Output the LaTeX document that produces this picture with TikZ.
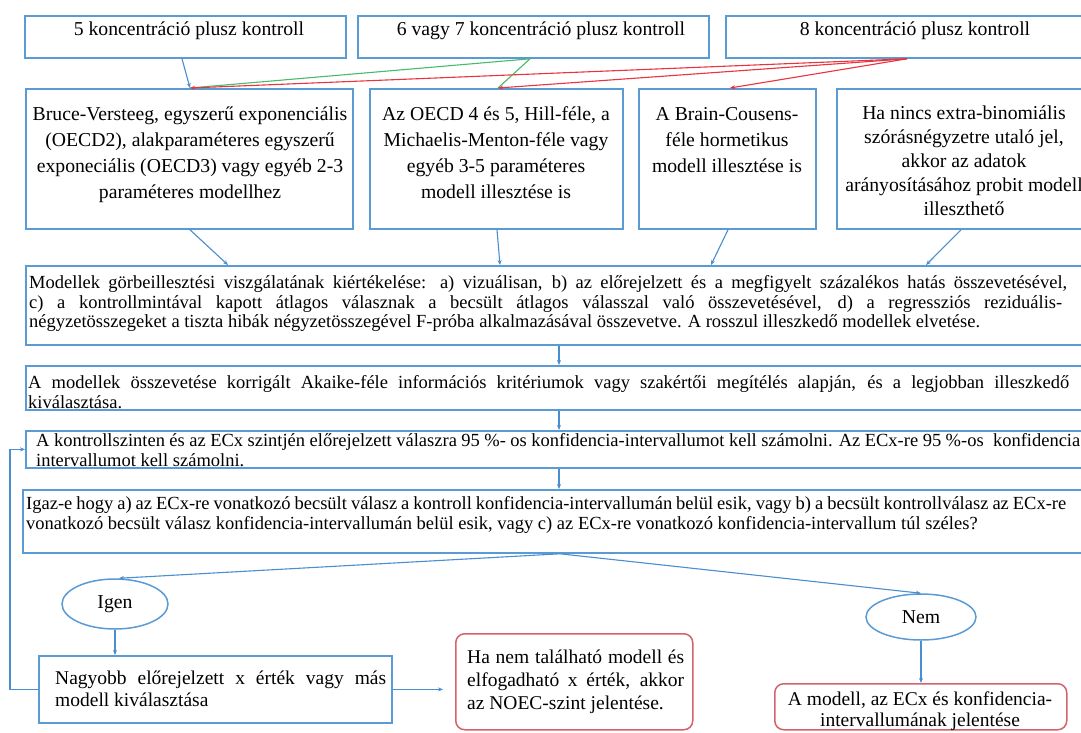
\documentclass[tikz,border=0pt]{standalone}
\usepackage{fontspec}
\setmainfont{Liberation Serif}
\usetikzlibrary{arrows.meta,shapes.geometric}
\definecolor{boxblue}{RGB}{91,155,213}
\definecolor{linkblue}{RGB}{72,142,208}
\definecolor{boxred}{RGB}{214,98,110}
\definecolor{linkred}{RGB}{236,50,60}
\definecolor{linkgreen}{RGB}{72,186,108}
% one line stretched to a given width (in pt)
\newcommand{\jl}[2]{\makebox[#1pt][s]{#2}}
\tikzset{
  panel/.style={draw=boxblue, line width=1.8pt, inner sep=0pt, anchor=north west},
  redpanel/.style={draw=boxred, line width=1.5pt, rounded corners=9pt, inner sep=0pt, anchor=north west},
  oval/.style={ellipse, draw=boxblue, line width=1.5pt, inner sep=0pt},
  label/.style={inner sep=0pt, align=center, font=\fontsize{19.7}{26}\selectfont},
  para/.style={inner sep=0pt, anchor=north west, align=left, font=\fontsize{18.5}{19.5}\selectfont},
  bigpara/.style={inner sep=0pt, anchor=north west, align=left, font=\fontsize{19.5}{21}\selectfont},
  link/.style={draw=linkblue, line width=1.1pt, -{Stealth[length=5pt,width=4pt]}},
  redlink/.style={draw=linkred, line width=1.1pt, -{Stealth[length=5pt,width=4pt]}},
  greenlink/.style={draw=linkgreen, line width=1.1pt},
}
\begin{document}
\begin{tikzpicture}[x=1pt,y=-1pt]
\useasboundingbox (0,0) rectangle (1081,733);
\clip (0,0) rectangle (1081,733);
\fill[white] (0,0) rectangle (1081,733);

% top row: number of concentrations
\node[panel, minimum width=321, minimum height=42] (a1) at (24,15) {};
\node[panel, minimum width=351, minimum height=42] (a2) at (357,15) {};
\node[panel, minimum width=380, minimum height=42] (a3) at (725,15) {};
\node[label] (ta1) at (189,31) {5 koncentráció plusz kontroll};
\node[label] (ta2) at (541,31) {6 vagy 7 koncentráció plusz kontroll};
\node[label] (ta3) at (915,31) {8 koncentráció plusz kontroll};

% second row: candidate models
\node[panel, minimum width=327, minimum height=140] (b1) at (25,88) {};
\node[panel, minimum width=253, minimum height=140] (b2) at (369,88) {};
\node[panel, minimum width=177, minimum height=140] (b3) at (638,88) {};
\node[panel, minimum width=256, minimum height=140] (b4) at (836,88) {};
\node[label, anchor=north] (tb1) at (190,102) {\strut Bruce-Versteeg, egyszerű exponenciális\\(OECD2), alakparaméteres egyszerű\\exponeciális (OECD3) vagy egyéb 2-3\\paraméteres modellhez};
\node[label, anchor=north] (tb2) at (496,102) {\strut Az OECD 4 és 5, Hill-féle, a\\Michaelis-Menton-féle vagy\\egyéb 3-5 paraméteres\\modell illesztése is};
\node[label, anchor=north] (tb3) at (727,102) {\strut A Brain-Cousens-\\féle hormetikus\\modell illesztése is};
\node[label, anchor=north, font=\fontsize{19.7}{24}\selectfont] (tb4) at (964,102) {\strut Ha nincs extra-binomiális\\szórásnégyzetre utaló jel,\\akkor az adatok\\arányosításához probit modell\\illeszthető};

% evaluation steps
\node[panel, minimum width=1080, minimum height=79] (c) at (25,265) {};
\node[panel, minimum width=1080, minimum height=44] (d) at (25,365) {};
\node[panel, minimum width=1080, minimum height=37] (e) at (25,430) {};
\node[panel, minimum width=1083, minimum height=63] (f) at (22,489) {};
\node[para] (tc) at (29,275) {\strut\jl{1038}{Modellek görbeillesztési viszgálatának kiértékelése: a) vizuálisan, b) az előrejelzett és a megfigyelt százalékos hatás összevetésével,}\\
\jl{1033}{c) a kontrollmintával kapott átlagos válasznak a becsült átlagos válasszal való összevetésével, d) a regressziós reziduális-}\\
négyzetösszegeket a tiszta hibák négyzetösszegével F-próba alkalmazásával összevetve. A rosszul illeszkedő modellek elvetése.};
\node[para] (td) at (28,375) {\strut\jl{1041}{A modellek összevetése korrigált Akaike-féle információs kritériumok vagy szakértői megítélés alapján, és a legjobban illeszkedő}\\
kiválasztása.};
\node[para] (te) at (36,433) {\strut\jl{1044}{A kontrollszinten és az ECx szintjén előrejelzett válaszra 95 \%- os konfidencia-intervallumot kell számolni. Az ECx-re 95 \%-os\enspace konfidencia}\\
intervallumot kell számolni.};
\node[para] (tf) at (26,496) {\strut\jl{1040}{Igaz-e hogy a) az ECx-re vonatkozó becsült válasz a kontroll konfidencia-intervallumán belül esik, vagy b) a becsült kontrollválasz az ECx-re}\\
vonatkozó becsült válasz konfidencia-intervallumán belül esik, vagy c) az ECx-re vonatkozó konfidencia-intervallum túl széles?};

% decision
\node[oval, minimum width=106, minimum height=50] (igen) at (115,604) {};
\node[label] (tigen) at (115,604) {Igen};
\node[oval, minimum width=110, minimum height=46] (nem) at (921,617) {};
\node[label] (tnem) at (921,617) {Nem};

% outcomes
\node[panel, minimum width=353, minimum height=67] (nagy) at (38,655) {};
\node[bigpara, font=\fontsize{19.5}{22}\selectfont] (tnagy) at (55,669) {\strut\jl{331}{Nagyobb előrejelzett x érték vagy más}\\modell kiválasztása};
\node[redpanel, minimum width=237, minimum height=96] (hanem) at (455,633) {};
\node[bigpara, font=\fontsize{19.5}{23}\selectfont] (thanem) at (467,647) {\strut\jl{217}{Ha nem található modell és}\\\jl{217}{elfogadható x érték, akkor}\\az NOEC-szint jelentése.};
\node[redpanel, minimum width=292, minimum height=46] (amod) at (774,683) {};
\node[label, anchor=north, font=\fontsize{19.5}{20.5}\selectfont] (tamod) at (920,691) {\strut A modell, az ECx és konfidencia-\\intervallumának jelentése};

% connectors between the first two rows
\draw[link] ([xshift=158pt]a1.south west) -- ([xshift=165pt]b1.north west);
\draw[greenlink] ([xshift=173pt]a2.south west) -- ([xshift=165pt]b1.north west);
\draw[greenlink] ([xshift=173pt]a2.south west) -- ([xshift=129pt]b2.north west);
\draw[redlink] ([xshift=182pt]a3.south west) -- ([xshift=165pt]b1.north west);
\draw[redlink] ([xshift=182pt]a3.south west) -- ([xshift=129pt]b2.north west);
\draw[redlink] ([xshift=182pt]a3.south west) -- ([xshift=92pt]b3.north west);

% models to evaluation
\draw[link] ([xshift=165pt]b1.south west) -- ([xshift=203pt]c.north west);
\draw[link] ([xshift=128pt]b2.south west) -- ([xshift=475pt]c.north west);
\draw[link] ([xshift=90pt]b3.south west) -- ([xshift=686pt]c.north west);
\draw[link] ([xshift=125pt]b4.south west) -- ([xshift=901pt]c.north west);

% chain of steps
\draw[link] ([xshift=534pt]c.south west) -- ([xshift=534pt]d.north west);
\draw[link] ([xshift=534pt]d.south west) -- ([xshift=534pt]e.north west);
\draw[link] ([xshift=534pt]e.south west) -- ([xshift=537pt]f.north west);

% branches
\draw[link] ([xshift=538pt]f.south west) -- ([xshift=4pt]igen.north);
\draw[link] ([xshift=538pt]f.south west) -- (nem.north);
\draw[link] (igen.south) -- (igen.south |- nagy.north);
\draw[link, shorten >=12pt] (nagy.east) -- (nagy.east -| hanem.west);
\draw[link] (nem.south) -- (nem.south |- amod.north);
\draw[link] (nagy.west) -- ++(-28,0) |- (e.west);
\end{tikzpicture}
\end{document}
